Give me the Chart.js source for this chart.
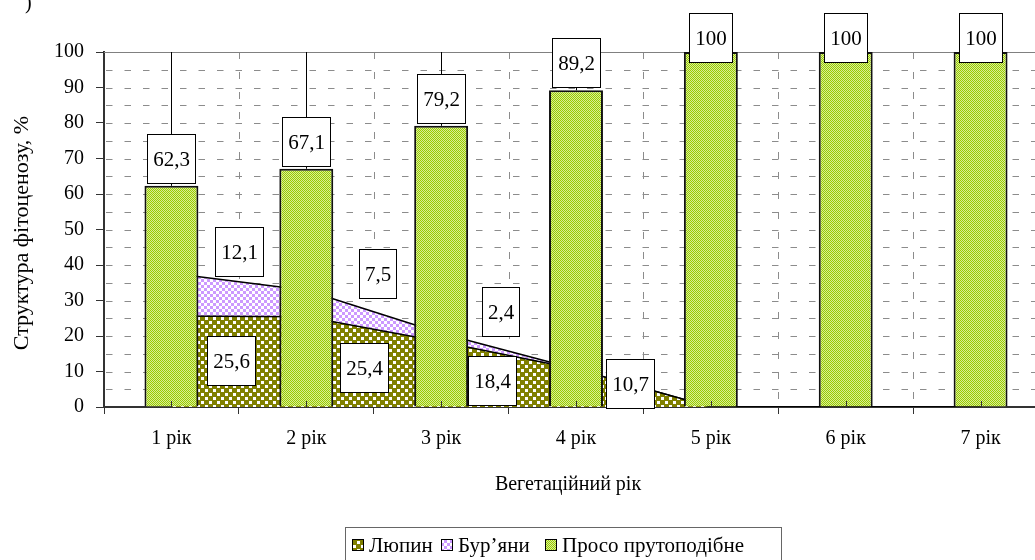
<!DOCTYPE html>
<html>
<head>
<meta charset="utf-8">
<script src="https://cdn.jsdelivr.net/npm/chart.js@4.4.1/dist/chart.umd.min.js"></script>
<style>
  html, body { margin: 0; padding: 0; background: #fff; overflow: hidden; width: 1035px; height: 560px; }
  canvas { display: block; }
</style>
</head>
<body>
<canvas id="c" width="1050" height="560"></canvas>
<script>
// ---- data ----
const years  = ['1 рік', '2 рік', '3 рік', '4 рік', '5 рік', '6 рік', '7 рік'];
const lupin  = [25.6, 25.4, 18.4, 10.7, 0, 0, 0];
const weeds  = [12.1, 7.5, 2.4, 0, 0, 0, 0];
const millet = [62.3, 67.1, 79.2, 89.2, 100, 100, 100];
const seriesNames = ['Люпин', 'Бур’яни', 'Просо прутоподібне'];
const yTitle = 'Структура фітоценозу, %';
const xTitle = 'Вегетаційний рік';

// placement of the lupin / weed value boxes: [category position, value position]
const lupinLabelAt = [[0.44, 13.1], [1.43, 11.1], [2.38, 7.5], [3.40, 6.6]];
const weedLabelAt  = [[0.50, 43.8], [1.53, 37.6], [2.44, 26.9]];

const FONT = '"Liberation Serif", "Times New Roman", serif';
const LABEL_H = 49;

const canvas = document.getElementById('c');
const mainCtx = canvas.getContext('2d');

function tile(size, paint) {
  const c = document.createElement('canvas');
  c.width = c.height = size;
  paint(c.getContext('2d'), size);
  return mainCtx.createPattern(c, 'repeat');
}
const milletFill = tile(2, (g) => {
  g.fillStyle = '#d8ec98'; g.fillRect(0, 0, 2, 2);
  g.fillStyle = '#99cc00'; g.fillRect(0, 0, 1, 1); g.fillRect(1, 1, 1, 1);
});
const weedFill = tile(6, (g) => {
  g.fillStyle = '#ffffff'; g.fillRect(0, 0, 6, 6);
  g.fillStyle = '#cc99ff'; g.fillRect(0, 0, 3, 3); g.fillRect(3, 3, 3, 3);
});
const lupinFill = tile(8, (g) => {
  g.fillStyle = '#808000'; g.fillRect(0, 0, 8, 8);
  g.fillStyle = '#ffffff'; g.fillRect(1, 1, 3, 3); g.fillRect(5, 5, 3, 3);
});

const fmt = (v) => String(v).replace('.', ',');

function catX(xs, pos) {
  const i = Math.floor(pos), f = pos - i;
  const a = xs.getPixelForValue(i), b = xs.getPixelForValue(i + 1);
  return a + (b - a) * f;
}

function valueBox(ctx, text, cx, cy) {
  ctx.font = '21px ' + FONT;
  const w = Math.round(ctx.measureText(text).width + 11);
  const x0 = Math.round(cx - w / 2), y0 = Math.round(cy - LABEL_H / 2);
  ctx.fillStyle = '#fff';
  ctx.fillRect(x0, y0, w, LABEL_H);
  ctx.strokeStyle = '#000';
  ctx.lineWidth = 1;
  ctx.setLineDash([]);
  ctx.strokeRect(x0 + 0.5, y0 + 0.5, w, LABEL_H);
  ctx.fillStyle = '#000';
  ctx.textAlign = 'center';
  ctx.textBaseline = 'middle';
  ctx.fillText(text, x0 + w / 2 + 0.5, y0 + LABEL_H / 2 + 1.5);
}

// dashed grid, frame line, value boxes, titles and legend
const chartDecor = {
  id: 'chartDecor',
  beforeDatasetsDraw(chart) {
    const { ctx, chartArea: a, scales: { x, y } } = chart;
    ctx.save();
    ctx.strokeStyle = '#8c8c8c';
    ctx.lineWidth = 1;
    ctx.setLineDash([6.5, 12]);
    for (let v = 5; v < 100; v += 5) {
      const py = Math.round(y.getPixelForValue(v)) + 0.5;
      ctx.beginPath(); ctx.moveTo(a.left + 2, py); ctx.lineTo(a.right, py); ctx.stroke();
    }
    ctx.setLineDash([7, 13]);
    for (let i = 1; i < years.length; i++) {
      const px = Math.round(catX(x, i - 0.5)) + 0.5;
      ctx.beginPath(); ctx.moveTo(px, a.top); ctx.lineTo(px, a.bottom); ctx.stroke();
    }
    ctx.setLineDash([]);
    ctx.strokeStyle = '#808080';
    const top = Math.round(y.getPixelForValue(100)) + 0.5;
    ctx.beginPath(); ctx.moveTo(a.left, top); ctx.lineTo(a.right, top); ctx.stroke();
    ctx.restore();
  },
  afterDatasetsDraw(chart) {
    const { ctx, chartArea: a, scales: { x, y } } = chart;
    ctx.save();
    // remainder lines from the column top up to the full 100 %
    ctx.strokeStyle = '#000';
    ctx.lineWidth = 1;
    millet.forEach((v, i) => {
      const rest = lupin[i] + weeds[i];
      if (rest <= 0) return;
      const px = Math.round(x.getPixelForValue(i)) + 0.5;
      ctx.beginPath();
      ctx.moveTo(px, y.getPixelForValue(v));
      ctx.lineTo(px, y.getPixelForValue(v + rest));
      ctx.stroke();
    });
    // small inner ticks at category centres
    ctx.strokeStyle = '#333';
    years.forEach((_, i) => {
      const px = Math.round(x.getPixelForValue(i)) + 0.5;
      ctx.beginPath(); ctx.moveTo(px, a.bottom - 6); ctx.lineTo(px, a.bottom); ctx.stroke();
    });
    // value boxes of the columns
    millet.forEach((v, i) => {
      const top = y.getPixelForValue(v);
      const boxTop = Math.max(13, top - 3 - LABEL_H);
      valueBox(ctx, fmt(v), x.getPixelForValue(i), boxTop + LABEL_H / 2);
    });
    // value boxes of the areas
    lupinLabelAt.forEach(([p, v], k) => valueBox(ctx, fmt(lupin[k]), catX(x, p), y.getPixelForValue(v)));
    weedLabelAt.forEach(([p, v], k) => valueBox(ctx, fmt(weeds[k]), catX(x, p), y.getPixelForValue(v)));
    ctx.restore();
  },
  afterDraw(chart) {
    const { ctx } = chart;
    ctx.save();
    ctx.fillStyle = '#000';
    // axis titles
    ctx.textAlign = 'center';
    ctx.textBaseline = 'middle';
    ctx.font = '20px ' + FONT;
    ctx.fillText(xTitle, 568, 485);
    ctx.save();
    ctx.translate(22, 233);
    ctx.rotate(-Math.PI / 2);
    ctx.font = '22px ' + FONT;
    ctx.fillText(yTitle, 0, 0);
    ctx.restore();
    // corner mark
    ctx.font = '20px ' + FONT;
    ctx.textAlign = 'left';
    ctx.textBaseline = 'alphabetic';
    ctx.fillText(')', 25, 9);
    // legend
    const ds = chart.data.datasets;
    const order = [1, 2, 0];
    const iconX = [352, 441, 545];
    const iy = 539;
    ctx.font = '21px ' + FONT;
    ctx.lineWidth = 1;
    order.forEach((k, n) => {
      const d = ds[k];
      const lx = iconX[n];
      ctx.fillStyle = d.backgroundColor;
      ctx.fillRect(lx, iy, 12, 12);
      ctx.strokeStyle = '#000';
      ctx.strokeRect(lx + 0.5, iy + 0.5, 11, 11);
      ctx.fillStyle = '#000';
      ctx.fillText(d.label, lx + 17, 552);
    });
    ctx.strokeStyle = '#666';
    ctx.strokeRect(345.5, 527.5, 436, 40);
    ctx.restore();
  }
};

new Chart(canvas, {
  data: {
    labels: years,
    datasets: [
      {
        type: 'bar', label: seriesNames[2], data: millet,
        backgroundColor: milletFill, borderColor: '#111',
        borderWidth: { top: 2, left: 2, right: 2, bottom: 0 },
        barPercentage: 0.4, categoryPercentage: 1
      },
      {
        type: 'line', label: seriesNames[0], data: lupin, stack: 'area',
        fill: 'origin', backgroundColor: lupinFill, borderColor: '#000',
        borderWidth: 1.5, pointRadius: 0, tension: 0
      },
      {
        type: 'line', label: seriesNames[1], data: weeds, stack: 'area',
        fill: '-1', backgroundColor: weedFill, borderColor: '#000',
        borderWidth: 1.5, pointRadius: 0, tension: 0
      }
    ]
  },
  options: {
    responsive: false,
    animation: false,
    devicePixelRatio: 1,
    layout: { padding: { top: 52, right: 2, left: 0, bottom: 0 } },
    plugins: { legend: { display: false }, tooltip: { enabled: false } },
    scales: {
      x: {
        offset: true,
        grid: { offset: true, drawOnChartArea: false, tickLength: 7, color: '#333', lineWidth: 1 },
        border: { color: '#333', width: 2 },
        ticks: { font: { family: FONT, size: 20 }, color: '#000', padding: 13, maxRotation: 0 },
        afterFit: (s) => { s.height = 153; }
      },
      y: {
        min: 0, max: 100, stacked: true,
        grid: { drawOnChartArea: false, tickLength: 8, color: '#333', lineWidth: 1 },
        border: { color: '#333', width: 2 },
        ticks: { stepSize: 10, font: { family: FONT, size: 20 }, color: '#000', padding: 12 },
        afterFit: (s) => { s.width = 104; }
      }
    }
  },
  plugins: [chartDecor]
});
</script>
</body>
</html>
